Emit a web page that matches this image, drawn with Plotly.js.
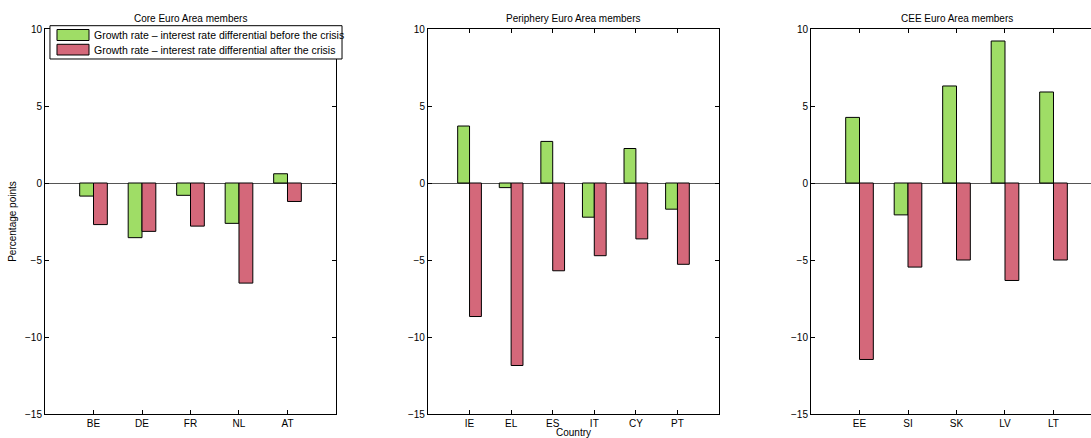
<!DOCTYPE html>
<html>
<head>
<meta charset="utf-8">
<script src="https://cdn.plot.ly/plotly-3.0.1.min.js"></script>
<style>
  html, body { margin: 0; padding: 0; background: #fff; overflow: hidden; }
  #chart { width: 1102px; height: 438px; }
</style>
</head>
<body>
<div id="chart"></div>
<script>
// Growth rate minus interest rate differential, percentage points
const coreCountries = ['BE', 'DE', 'FR', 'NL', 'AT'];
const coreBefore = [-0.85, -3.55, -0.8, -2.62, 0.6];
const coreAfter = [-2.7, -3.14, -2.8, -6.5, -1.2];

const periCountries = ['IE', 'EL', 'ES', 'IT', 'CY', 'PT'];
const periBefore = [3.7, -0.3, 2.7, -2.22, 2.24, -1.7];
const periAfter = [-8.67, -11.85, -5.7, -4.72, -3.63, -5.28];

const ceeCountries = ['EE', 'SI', 'SK', 'LV', 'LT'];
const ceeBefore = [4.26, -2.07, 6.3, 9.22, 5.91];
const ceeAfter = [-11.46, -5.46, -5.0, -6.33, -5.0];

const panelTitles = ['Core Euro Area members', 'Periphery Euro Area members', 'CEE Euro Area members'];
const seriesNames = [
  'Growth rate \u2013 interest rate differential before the crisis',
  'Growth rate \u2013 interest rate differential after the crisis'
];
const yTicks = [-15, -10, -5, 0, 5, 10];

const GREEN = '#9fdd66';
const RED = '#d4687a';
const FONT = 'Liberation Sans, Arial, Helvetica, sans-serif';

const panels = [
  { cats: coreCountries, before: coreBefore, after: coreAfter },
  { cats: periCountries, before: periBefore, after: periAfter },
  { cats: ceeCountries, before: ceeBefore, after: ceeAfter }
];

const traces = [];
panels.forEach((p, i) => {
  const sfx = i === 0 ? '' : String(i + 1);
  const xs = p.cats.map((_, k) => k + 1);
  traces.push({
    type: 'bar', x: xs, y: p.before, name: seriesNames[0],
    xaxis: 'x' + sfx, yaxis: 'y' + sfx, showlegend: false,
    marker: { color: GREEN, line: { color: '#000', width: 1 } },
    hoverinfo: 'y'
  });
  traces.push({
    type: 'bar', x: xs, y: p.after, name: seriesNames[1],
    xaxis: 'x' + sfx, yaxis: 'y' + sfx, showlegend: false,
    marker: { color: RED, line: { color: '#000', width: 1 } },
    hoverinfo: 'y'
  });
});

const domains = [[0, 0.2753], [0.3623, 0.6377], [0.7247, 1]];

const layout = {
  width: 1102, height: 438,
  margin: { l: 45, r: 0, t: 29, b: 24 },
  paper_bgcolor: '#fff', plot_bgcolor: '#fff',
  font: { family: FONT, size: 10, color: '#000' },
  barmode: 'group', bargap: 0.43, bargroupgap: 0,
  showlegend: false,
  annotations: [],
  shapes: []
};

panels.forEach((p, i) => {
  const sfx = i === 0 ? '' : String(i + 1);
  layout['xaxis' + sfx] = {
    domain: domains[i], anchor: 'y' + sfx,
    range: [0, p.cats.length + 1],
    tickmode: 'array', tickvals: p.cats.map((_, k) => k + 1), ticktext: p.cats,
    ticks: 'inside', ticklen: 4, tickcolor: '#000',
    showline: true, linecolor: '#000', linewidth: 1, mirror: 'ticks',
    showgrid: false, zeroline: false, fixedrange: true,
    tickfont: { family: FONT, size: 10, color: '#000' },
    title: i === 1 ? { text: 'Country', font: { family: FONT, size: 10, color: '#000' }, standoff: 8 } : { text: '' }
  };
  layout['yaxis' + sfx] = {
    domain: [0, 1], anchor: 'x' + sfx,
    range: [-15, 10],
    tickmode: 'array', tickvals: yTicks,
    ticks: 'inside', ticklen: 4, tickcolor: '#000',
    showline: true, linecolor: '#000', linewidth: 1, mirror: 'ticks',
    showgrid: false, zeroline: true, zerolinecolor: '#555', zerolinewidth: 1,
    fixedrange: true,
    tickfont: { family: FONT, size: 10, color: '#000' },
    title: i === 0 ? { text: 'Percentage points', font: { family: FONT, size: 10, color: '#000' }, standoff: 6 } : { text: '' }
  };
  layout.annotations.push({
    text: panelTitles[i], showarrow: false,
    xref: 'x' + sfx + ' domain', yref: 'y' + sfx + ' domain',
    x: 0.5, y: 1, xanchor: 'center', yanchor: 'bottom', yshift: 3,
    font: { family: FONT, size: 10, color: '#000' }
  });
});

// Legend box drawn in the top-left corner of the first panel, with wide swatches
const legendBox = { x0: 0.0047, x1: 0.2810, y0: 0.9221, y1: 1.0086 };
const legendRows = [
  { color: GREEN, y0: 0.9701, y1: 0.9987, ty: 0.9849 },
  { color: RED, y0: 0.9325, y1: 0.9603, ty: 0.9460 }
];
layout.shapes.push({
  type: 'rect', xref: 'paper', yref: 'paper', layer: 'above',
  x0: legendBox.x0, x1: legendBox.x1, y0: legendBox.y0, y1: legendBox.y1,
  fillcolor: '#fff', line: { color: '#000', width: 1 }
});
legendRows.forEach((r, k) => {
  layout.shapes.push({
    type: 'rect', xref: 'paper', yref: 'paper', layer: 'above',
    x0: 0.01135, x1: 0.04163, y0: r.y0, y1: r.y1,
    fillcolor: r.color, line: { color: '#000', width: 1 }
  });
  layout.annotations.push({
    text: seriesNames[k], showarrow: false,
    xref: 'paper', yref: 'paper', x: 0.0445, y: r.ty,
    xanchor: 'left', yanchor: 'middle',
    font: { family: FONT, size: 10.5, color: '#000' }
  });
});

Plotly.newPlot('chart', traces, layout, { displayModeBar: false, staticPlot: true });
</script>
</body>
</html>
